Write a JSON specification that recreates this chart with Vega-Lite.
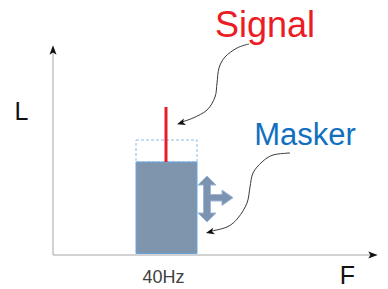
{
  "$schema": "https://vega.github.io/schema/vega-lite/v6.json",
  "width": 388,
  "height": 289,
  "autosize": "none",
  "padding": 0,
  "background": "white",
  "config": {"view": {"stroke": null}},
  "datasets": {
    "axes": [
      {"x": 0, "y": 0, "x2": 0, "y2": 203},
      {"x": 0, "y": 0, "x2": 319, "y2": 0}
    ],
    "axisHeads": [
      {"x": 0, "y": 205, "dir": 270},
      {"x": 320, "y": 0, "dir": 0}
    ],
    "masker": [{"x": 83, "x2": 144, "y": 1.5, "y2": 93}],
    "raised": [{"x": 83, "x2": 144, "y": 93, "y2": 115}],
    "signal": [{"x": 113, "y": 93, "y2": 148}],
    "move": [
      {"i": 0, "x": 154, "y": 79},
      {"i": 1, "x": 163, "y": 70},
      {"i": 2, "x": 157.5, "y": 70},
      {"i": 3, "x": 157.5, "y": 60.5},
      {"i": 4, "x": 169, "y": 60.5},
      {"i": 5, "x": 169, "y": 65},
      {"i": 6, "x": 180, "y": 57.3},
      {"i": 7, "x": 169, "y": 49.5},
      {"i": 8, "x": 169, "y": 54},
      {"i": 9, "x": 157.5, "y": 54},
      {"i": 10, "x": 157.5, "y": 42},
      {"i": 11, "x": 163, "y": 42},
      {"i": 12, "x": 154, "y": 33},
      {"i": 13, "x": 145, "y": 42},
      {"i": 14, "x": 150.5, "y": 42},
      {"i": 15, "x": 150.5, "y": 70},
      {"i": 16, "x": 145, "y": 70},
      {"i": 17, "x": 154, "y": 79}
    ],
    "curves": [
      {"id": "s", "i": 0, "x": 196, "y": 211},
      {"id": "s", "i": 1, "x": 184, "y": 207},
      {"id": "s", "i": 2, "x": 172, "y": 198},
      {"id": "s", "i": 3, "x": 166, "y": 187},
      {"id": "s", "i": 4, "x": 164, "y": 172},
      {"id": "s", "i": 5, "x": 162, "y": 158},
      {"id": "s", "i": 6, "x": 154, "y": 145},
      {"id": "s", "i": 7, "x": 140, "y": 137},
      {"id": "s", "i": 8, "x": 127, "y": 132.5},
      {"id": "m", "i": 0, "x": 237, "y": 102},
      {"id": "m", "i": 1, "x": 220, "y": 100},
      {"id": "m", "i": 2, "x": 209, "y": 93},
      {"id": "m", "i": 3, "x": 200, "y": 82},
      {"id": "m", "i": 4, "x": 197, "y": 68},
      {"id": "m", "i": 5, "x": 194, "y": 52},
      {"id": "m", "i": 6, "x": 185, "y": 37},
      {"id": "m", "i": 7, "x": 174, "y": 28},
      {"id": "m", "i": 8, "x": 156, "y": 23.5}
    ],
    "curveHeads": [
      {"x": 128, "y": 132, "dir": 162},
      {"x": 157, "y": 23, "dir": 165}
    ],
    "titleSignal": [{"x": 212, "y": 218, "t": "Signal"}],
    "titleMasker": [{"x": 252, "y": 110, "t": "Masker"}],
    "axisLabels": [
      {"x": -31.5, "y": 135, "t": "L"},
      {"x": 294.5, "y": -29, "t": "F"}
    ],
    "freq": [{"x": 110.5, "y": -28, "t": "40Hz"}]
  },
  "layer": [
    {
      "data": {"name": "axes"},
      "mark": {"type": "rule", "color": "#c3c3c3", "strokeWidth": 1.5},
      "encoding": {
        "x": {"field": "x", "type": "quantitative", "scale": {"domain": [-53, 335], "nice": false, "zero": false}, "axis": null},
        "y": {"field": "y", "type": "quantitative", "scale": {"domain": [-34, 255], "nice": false, "zero": false}, "axis": null},
        "x2": {"field": "x2"},
        "y2": {"field": "y2"}
      }
    },
    {
      "data": {"name": "axisHeads"},
      "mark": {"type": "point", "filled": true, "color": "#111111", "opacity": 1, "size": 90, "shape": "M1,0 L-1,-0.75 L-0.55,0 L-1,0.75 Z"},
      "encoding": {
        "x": {"field": "x", "type": "quantitative"},
        "y": {"field": "y", "type": "quantitative"},
        "angle": {"field": "dir", "type": "quantitative", "scale": null}
      }
    },
    {
      "data": {"name": "raised"},
      "mark": {"type": "rect", "fill": null, "fillOpacity": 0, "stroke": "#8db9e4", "strokeWidth": 1, "strokeDash": [3, 2]},
      "encoding": {
        "x": {"field": "x", "type": "quantitative"},
        "x2": {"field": "x2"},
        "y": {"field": "y", "type": "quantitative"},
        "y2": {"field": "y2"}
      }
    },
    {
      "data": {"name": "masker"},
      "mark": {"type": "rect", "fill": "#7f95ae", "stroke": "#6aa4dc", "strokeWidth": 1},
      "encoding": {
        "x": {"field": "x", "type": "quantitative"},
        "x2": {"field": "x2"},
        "y": {"field": "y", "type": "quantitative"},
        "y2": {"field": "y2"}
      }
    },
    {
      "data": {"name": "signal"},
      "mark": {"type": "rule", "color": "#e31f2b", "strokeWidth": 3},
      "encoding": {
        "x": {"field": "x", "type": "quantitative"},
        "y": {"field": "y", "type": "quantitative"},
        "y2": {"field": "y2"}
      }
    },
    {
      "data": {"name": "move"},
      "mark": {"type": "line", "fill": "#7b93b1", "stroke": "#9cb6d4", "strokeWidth": 1},
      "encoding": {
        "x": {"field": "x", "type": "quantitative"},
        "y": {"field": "y", "type": "quantitative"},
        "order": {"field": "i", "type": "quantitative"}
      }
    },
    {
      "data": {"name": "curves"},
      "mark": {"type": "line", "color": "#3a3a3a", "strokeWidth": 1, "interpolate": "cardinal"},
      "encoding": {
        "x": {"field": "x", "type": "quantitative"},
        "y": {"field": "y", "type": "quantitative"},
        "detail": {"field": "id"},
        "order": {"field": "i", "type": "quantitative"}
      }
    },
    {
      "data": {"name": "curveHeads"},
      "mark": {"type": "point", "filled": true, "color": "#111111", "opacity": 1, "size": 70, "shape": "M1,0 L-1,-0.8 L-0.5,0 L-1,0.8 Z"},
      "encoding": {
        "x": {"field": "x", "type": "quantitative"},
        "y": {"field": "y", "type": "quantitative"},
        "angle": {"field": "dir", "type": "quantitative", "scale": null}
      }
    },
    {
      "data": {"name": "titleSignal"},
      "mark": {"type": "text", "font": "Liberation Sans", "fontSize": 36, "color": "#ec1c24", "align": "center", "baseline": "alphabetic"},
      "encoding": {
        "x": {"field": "x", "type": "quantitative"},
        "y": {"field": "y", "type": "quantitative"},
        "text": {"field": "t"}
      }
    },
    {
      "data": {"name": "titleMasker"},
      "mark": {"type": "text", "font": "Liberation Sans", "fontSize": 31, "color": "#1170c0", "align": "center", "baseline": "alphabetic"},
      "encoding": {
        "x": {"field": "x", "type": "quantitative"},
        "y": {"field": "y", "type": "quantitative"},
        "text": {"field": "t"}
      }
    },
    {
      "data": {"name": "axisLabels"},
      "mark": {"type": "text", "font": "Liberation Sans", "fontSize": 25, "color": "#111111", "align": "center", "baseline": "alphabetic"},
      "encoding": {
        "x": {"field": "x", "type": "quantitative"},
        "y": {"field": "y", "type": "quantitative"},
        "text": {"field": "t"}
      }
    },
    {
      "data": {"name": "freq"},
      "mark": {"type": "text", "font": "Liberation Sans", "fontSize": 18, "color": "#404040", "align": "center", "baseline": "alphabetic"},
      "encoding": {
        "x": {"field": "x", "type": "quantitative"},
        "y": {"field": "y", "type": "quantitative"},
        "text": {"field": "t"}
      }
    }
  ]
}
